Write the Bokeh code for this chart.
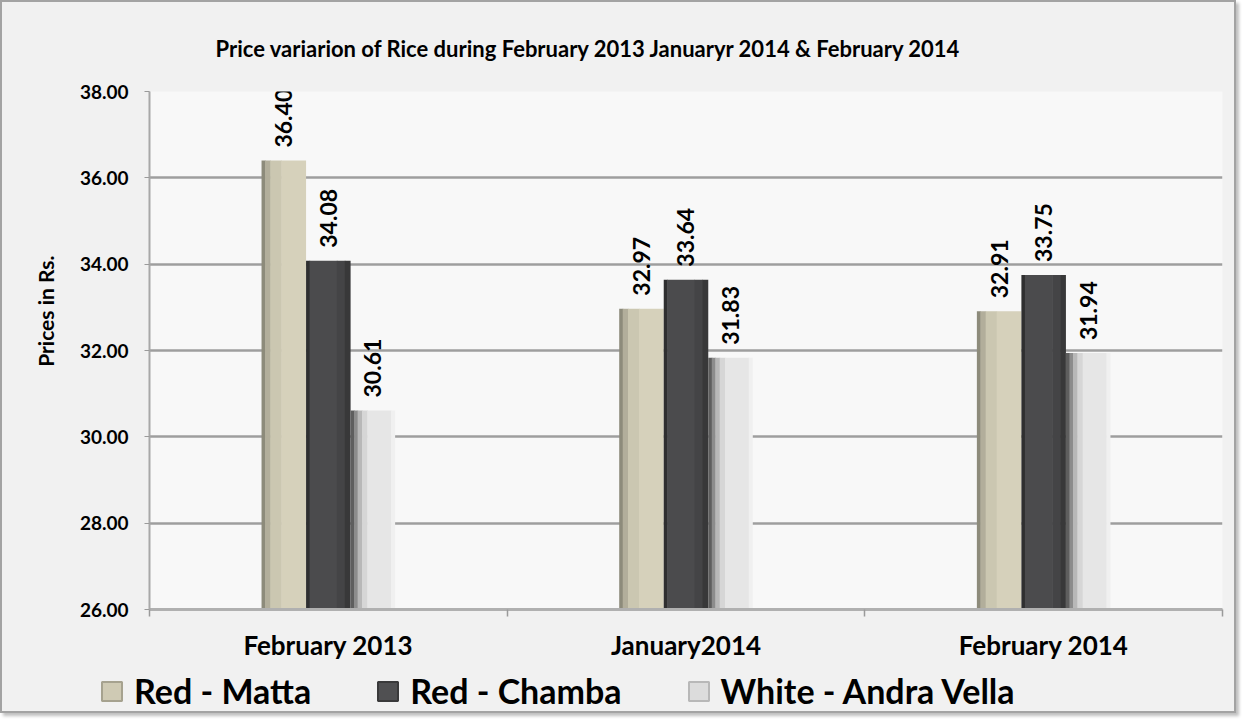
import math
from bokeh.plotting import figure
from bokeh.layouts import column
from bokeh.models import (ColumnDataSource, FixedTicker, NumeralTickFormatter,
                          LabelSet, Legend, LegendItem, Range1d, Title)
from bokeh.transform import dodge
from bokeh.core.properties import value
from bokeh.embed import file_html
from bokeh.resources import INLINE

# ---------------- data ----------------
categories = ["February 2013", "January2014", "February 2014"]
series_names = ["Red - Matta", "Red - Chamba", "White - Andra Vella"]
red_matta = [36.40, 32.97, 32.91]
red_chamba = [34.08, 33.64, 33.75]
white_andra_vella = [30.61, 31.83, 31.94]
y_ticks = [26, 28, 30, 32, 34, 36, 38]
title_text = "Price variarion of Rice during February 2013 Januaryr 2014 & February 2014"
y_label = "Prices in Rs."

FONT = value("Lato")
BG = "#f1f1f1"

src = ColumnDataSource(data=dict(
    x=list(range(len(categories))),
    matta=red_matta,
    chamba=red_chamba,
    white=white_andra_vella,
    matta_txt=[f"{v:.2f}" for v in red_matta],
    chamba_txt=[f"{v:.2f}" for v in red_chamba],
    white_txt=[f"{v:.2f}" for v in white_andra_vella],
))

W = 1232
p = figure(width=W, height=667, output_backend="svg", toolbar_location=None,
           x_range=Range1d(-0.5, len(categories) - 0.5), y_range=Range1d(26, 38),
           min_border_left=147, min_border_right=12, min_border_top=89,
           min_border_bottom=60)
p.frame_align = False
p.background_fill_color = "#f8f8f8"
p.border_fill_color = BG
p.outline_line_color = None

# title
p.title.text = title_text
p.title.text_font = "Lato"
p.title.text_font_style = "bold"
p.title.text_font_size = "22px"
p.title.text_color = "#000000"
p.title.align = "left"
p.title.offset = 66
p.title.standoff = 60

# y axis title (side title so it can sit a little above centre)
p.add_layout(Title(text=y_label, align="right", offset=164, standoff=37,
                   text_font="Lato", text_font_style="bold", text_font_size="21px",
                   text_color="#000000"), "left")

# axes
p.yaxis.ticker = FixedTicker(ticks=y_ticks)
p.yaxis.formatter = NumeralTickFormatter(format="0.00")
p.yaxis.major_label_text_font = "Lato"
p.yaxis.major_label_text_font_style = "bold"
p.yaxis.major_label_text_font_size = "19px"
p.yaxis.major_label_text_color = "#000000"
p.yaxis.major_tick_out = 5
p.yaxis.major_tick_in = 0
p.yaxis.major_tick_line_color = "#9a9a9a"
p.yaxis.minor_tick_line_color = None
p.yaxis.axis_line_color = "#a8a8a8"
p.yaxis.axis_line_width = 2
p.yaxis.major_label_standoff = 16

p.xaxis.ticker = FixedTicker(ticks=list(range(len(categories))),
                             minor_ticks=[i - 0.5 for i in range(len(categories) + 1)])
p.xaxis.major_label_overrides = {i: c for i, c in enumerate(categories)}
p.xaxis.major_tick_line_color = None
p.xaxis.major_tick_out = 0
p.xaxis.major_tick_in = 0
p.xaxis.minor_tick_out = 7
p.xaxis.minor_tick_in = 0
p.xaxis.minor_tick_line_color = "#9a9a9a"
p.xaxis.minor_tick_line_width = 1.5
p.xaxis.axis_line_color = "#b0b0b0"
p.xaxis.axis_line_width = 3
p.xaxis.major_label_text_font = "Lato"
p.xaxis.major_label_text_font_style = "bold"
p.xaxis.major_label_text_font_size = "26px"
p.xaxis.major_label_text_color = "#000000"
p.xaxis.major_label_standoff = 12

p.xgrid.grid_line_color = None
p.ygrid.grid_line_color = "#9e9e9e"
p.ygrid.grid_line_width = 2.5

# bars with simple shading strips (pseudo-3D look)
bw = 0.123
step = 0.1245
shading = {
    "matta": [(0.00, 0.08, "#8d8b7b"), (0.08, 0.20, "#b2ae9b"),
              (0.20, 0.45, "#cbc7b1"), (0.45, 1.00, "#d6d1bb")],
    "chamba": [(0.00, 0.08, "#2f2f30"), (0.08, 0.70, "#4b4b4d"),
               (0.70, 0.88, "#444446"), (0.88, 1.00, "#383839")],
    "white": [(0.00, 0.08, "#5e5e5e"), (0.08, 0.16, "#8c8c8c"),
              (0.16, 0.26, "#b8b8b8"), (0.26, 0.38, "#d6d6d6"),
              (0.38, 0.92, "#e6e6e6"), (0.92, 1.00, "#f0f0f0")],
}
legend_fill = {"matta": "#cfcab4", "chamba": "#505052", "white": "#dcdcdc"}
legend_line = {"matta": "#a6a28f", "chamba": "#3a3a3b", "white": "#b8b8b8"}
cols = ["matta", "chamba", "white"]
for k, col in enumerate(cols):
    base = (k - 1) * step
    for (a, b, c) in shading[col]:
        off = base - bw / 2 + (a + b) / 2 * bw
        p.vbar(x=dodge("x", off), top=col, bottom=26, width=(b - a) * bw + 0.0015,
               fill_color=c, line_color=None, source=src)

    labels = LabelSet(x=dodge("x", base), y=col, text=col + "_txt", source=src,
                      angle=math.pi / 2, y_offset=13, text_align="left",
                      text_baseline="middle", text_font=FONT,
                      text_font_style="bold", text_font_size="23px",
                      text_color="#000000")
    p.add_layout(labels)

# ---------------- legend strip below the chart ----------------
H2 = 42
q = figure(width=W, height=H2, output_backend="svg", toolbar_location=None,
           x_range=Range1d(0, W), y_range=Range1d(0, H2),
           x_axis_location=None, y_axis_location=None,
           min_border=0, min_border_left=0, min_border_right=0,
           min_border_top=0, min_border_bottom=0)
q.frame_align = False
q.grid.visible = False
q.outline_line_color = None
q.background_fill_color = BG
q.border_fill_color = BG

items = []
nan = float("nan")
for k, col in enumerate(cols):
    # legend proxy: a single undrawable (NaN) bar that only supplies the swatch style
    proxy = ColumnDataSource(data=dict(x=[nan], top=[nan]))
    r = q.vbar(x="x", top="top", width=1, source=proxy,
               fill_color=legend_fill[col], line_color=legend_line[col], line_width=2)
    items.append(LegendItem(label=series_names[k], renderers=[r]))

legend = Legend(items=items, orientation="horizontal", location=(97, 0),
                label_text_font="Lato", label_text_font_style="bold",
                label_text_font_size="34px", label_text_color="#000000",
                glyph_width=25, glyph_height=24, spacing=64, label_standoff=10,
                padding=0, margin=0, border_line_color=None,
                background_fill_alpha=0)
q.add_layout(legend, "center")

layout = column(p, q, spacing=0)
layout.styles = {"border": "2px solid #a3a3a3", "background-color": BG,
                 "box-shadow": "3px 3px 3px rgba(0,0,0,0.25)"}

open("out.html", "w").write(file_html(layout, INLINE))
